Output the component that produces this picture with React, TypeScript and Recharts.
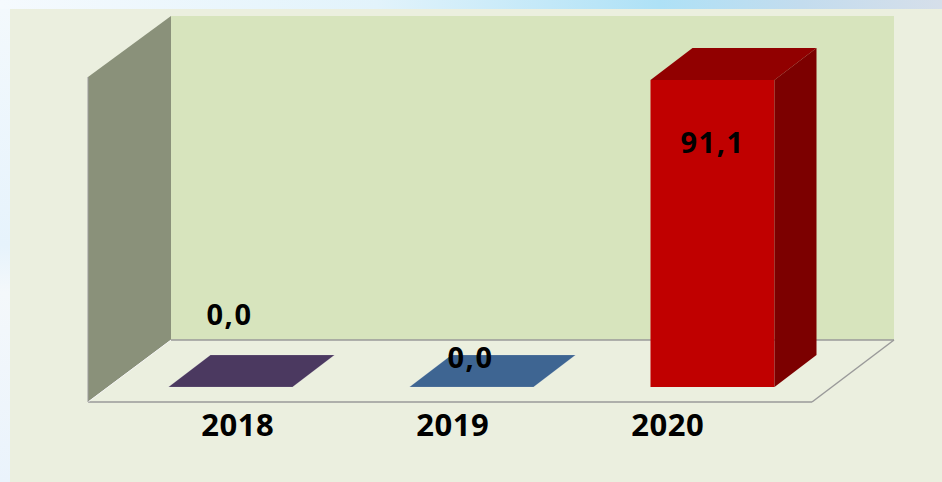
import React from "react";
import { BarChart, Bar, XAxis, YAxis, LabelList } from "recharts";

const years = ["2018", "2019", "2020"];
const values = [0.0, 0.0, 91.1];

const data = years.map((year, i) => ({ year, value: values[i] }));

const W = 942;
const H = 482;
const FRONT = ["#4b3960", "#3e6592", "#c00000"];
const TOP = ["#4b3960", "#3e6592", "#910000"];
const SIDE = ["#3a2c4b", "#2f4d70", "#7c0000"];
const DX = 42;
const DY = -32;
const LABEL_DY = [-62, -19, 73];
const LABEL_DX = [-1, -1, 0];
const FONT = "'Open Sans', 'DejaVu Sans', sans-serif";

const fmt = (v: number) => v.toFixed(1).replace(".", ",");

const Box3D = (props: any) => {
  const { x, y, width, height, index } = props;
  const w = width;
  const h = height || 0;
  const top = `${x},${y} ${x + w},${y} ${x + w + DX},${y + DY} ${x + DX},${y + DY}`;
  if (h <= 0.5) {
    return <polygon points={top} fill={FRONT[index]} stroke="rgba(255,255,255,0.25)" strokeWidth={0.5} />;
  }
  const side = `${x + w},${y} ${x + w + DX},${y + DY} ${x + w + DX},${y + h + DY} ${x + w},${y + h}`;
  return (
    <g>
      <rect x={x} y={y} width={w} height={h} fill={FRONT[index]} />
      <polygon points={top} fill={TOP[index]} />
      <polygon points={side} fill={SIDE[index]} />
    </g>
  );
};

const ValueLabel = (props: any) => {
  const { x, y, width, value, index } = props;
  return (
    <text
      x={x + width / 2 + LABEL_DX[index]}
      y={y + LABEL_DY[index]}
      textAnchor="middle"
      fontFamily={FONT}
      fontWeight={700}
      fontSize={29}
      letterSpacing={1.5}
      fill="#000"
    >
      {fmt(Number(value))}
    </text>
  );
};

const YearTick = (props: any) => {
  const { x, y, payload } = props;
  return (
    <text
      x={x}
      y={y + 19}
      textAnchor="middle"
      fontFamily={FONT}
      fontWeight={700}
      fontSize={31}
      letterSpacing={0.5}
      fill="#000"
    >
      {payload.value}
    </text>
  );
};

const Background = () => (
  <svg width={W} height={H} style={{ position: "absolute", left: 0, top: 0 }}>
    <defs>
      <linearGradient id="topStrip" x1="0" y1="0" x2="1" y2="0">
        <stop offset="0" stopColor="#f5fafe" />
        <stop offset="0.4" stopColor="#e2f3fb" />
        <stop offset="0.7" stopColor="#aee1f6" />
        <stop offset="0.85" stopColor="#c3dcee" />
        <stop offset="1" stopColor="#d6dfea" />
      </linearGradient>
      <linearGradient id="leftStrip" x1="0" y1="0" x2="0" y2="1">
        <stop offset="0" stopColor="#f3f9fd" />
        <stop offset="0.5" stopColor="#e6f3fc" />
        <stop offset="0.6" stopColor="#f4f8fb" />
        <stop offset="1" stopColor="#eaf3fc" />
      </linearGradient>
    </defs>
    <rect x={0} y={0} width={W} height={H} fill="#ebefdf" />
    <rect x={0} y={0} width={W} height={9} fill="url(#topStrip)" />
    <rect x={0} y={9} width={10} height={H - 9} fill="url(#leftStrip)" />
    <polygon points="171,16 894,16 894,340 171,340" fill="#d7e4bd" />
    <polygon points="88,77 171,16 171,340 88,402" fill="#8a917a" />
    <polygon points="88,402 812,402 894,340 171,340" fill="#ebefdf" />
    <line x1={171} y1={340} x2={894} y2={340} stroke="#9a9a9a" strokeWidth={1.5} />
    <line x1={88} y1={402} x2={812} y2={402} stroke="#9a9a9a" strokeWidth={1.5} />
    <line x1={812} y1={402} x2={894} y2={340} stroke="#9a9a9a" strokeWidth={1.5} />
    <line x1={88} y1={402} x2={171} y2={340} stroke="#f4f4f4" strokeWidth={1} />
    <line x1={88} y1={77} x2={88} y2={402} stroke="#9a9a9a" strokeWidth={1} />
  </svg>
);

export default function App() {
  return (
    <div style={{ position: "absolute", left: 0, top: 0, width: W, height: H }}>
      <Background />
      <div style={{ position: "absolute", left: 0, top: 0 }}>
        <BarChart
          width={W}
          height={H}
          data={data}
          margin={{ top: 50, right: 109.5, bottom: 55, left: 109.5 }}
          barCategoryGap={0}
        >
          <XAxis dataKey="year" hide />
          <XAxis
            xAxisId="lbl"
            dataKey="year"
            height={40}
            axisLine={false}
            tickLine={false}
            tickSize={0}
            tickMargin={0}
            padding={{ left: 20.7, right: 57.3 }}
            tick={<YearTick />}
            interval={0}
          />
          <YAxis hide domain={[0, 100]} />
          <Bar dataKey="value" barSize={124} shape={<Box3D />} isAnimationActive={false}>
            <LabelList dataKey="value" content={<ValueLabel />} />
          </Bar>
        </BarChart>
      </div>
    </div>
  );
}
